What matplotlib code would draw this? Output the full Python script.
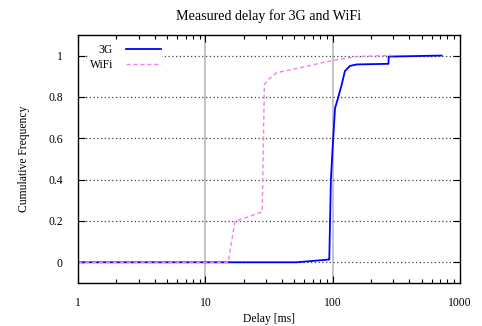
import matplotlib
matplotlib.use("Agg")
import matplotlib.pyplot as plt
from matplotlib.ticker import LogLocator, NullFormatter
import numpy as np

plt.rcParams["font.family"] = ["Liberation Serif", "DejaVu Serif"]
plt.rcParams["font.size"] = 8.4

# values
wifi_x = [1, 14.5, 15.1, 17.1, 28.0, 29.1, 31.2, 36.4, 55.5, 95.4, 154.6, 264, 300]
wifi_y = [0, 0, 0.0, 0.198, 0.244, 0.86, 0.884, 0.917, 0.941, 0.974, 0.995, 1.0, 1.0]
g3_x = [1, 52, 92.5, 94.2, 97, 100, 104.5, 111, 118, 125, 137, 155, 275, 276, 719]
g3_y = [0, 0, 0.013, 0.013, 0.40, 0.55, 0.745, 0.80, 0.86, 0.925, 0.95, 0.957, 0.96, 0.995, 1.0]
y_ticks = [0, 0.2, 0.4, 0.6, 0.8, 1]
y_labels = ["0", "0.2", "0.4", "0.6", "0.8", "1"]
x_ticks = [1, 10, 100, 1000]
x_labels = ["1", "10", "100", "1000"]

fig = plt.figure(figsize=(4.82, 3.26), dpi=100)
ax = fig.add_axes([0.162, 0.132, 0.792, 0.761])

# gnuplot-like grid: grey solid verticals, dotted horizontals
for xv in [10, 100]:
    ax.axvline(xv, color="#b4b4b4", lw=1.1, zorder=0)
for yv in y_ticks:
    ax.axhline(yv, color="#404040", lw=0.9, ls=(0, (1, 2)), zorder=0)

ax.plot(g3_x, g3_y, color="#0000ff", lw=1.3, label="3G")
ax.plot(wifi_x, wifi_y, color="#ee82ee", lw=1.0, ls=(0, (3, 2)), label="WiFi")

ax.set_xscale("log")
ax.set_xlim(1, 1000)
ax.set_ylim(-0.1, 1.1)
ax.set_xticks(x_ticks)
ax.set_xticklabels(x_labels)
ax.xaxis.set_minor_locator(LogLocator(base=10, subs=np.arange(2, 10)))
ax.xaxis.set_minor_formatter(NullFormatter())
ax.set_yticks(y_ticks)
ax.set_yticklabels(y_labels)
ax.tick_params(which="both", direction="in", top=True, right=True)
ax.tick_params(axis="x", which="major", pad=10)
ax.tick_params(axis="y", which="major", pad=11)
ax.tick_params(which="major", length=5, width=0.8)
ax.tick_params(which="minor", length=3, width=0.8)
for s in ax.spines.values():
    s.set_linewidth(1.0)

ax.set_xlabel("Delay [ms]", labelpad=3)
ax.set_ylabel("Cumulative Frequency", labelpad=13)
ax.set_title("Measured delay for 3G and WiFi", pad=11)

ax.legend(loc="upper right", bbox_to_anchor=(0.22, 0.968), markerfirst=False,
          frameon=True, edgecolor="none", facecolor="white", framealpha=1,
          handlelength=3.0, borderpad=0.1, borderaxespad=0, labelspacing=0.25,
          handletextpad=1.1)

fig.savefig("out.png", dpi=100)
